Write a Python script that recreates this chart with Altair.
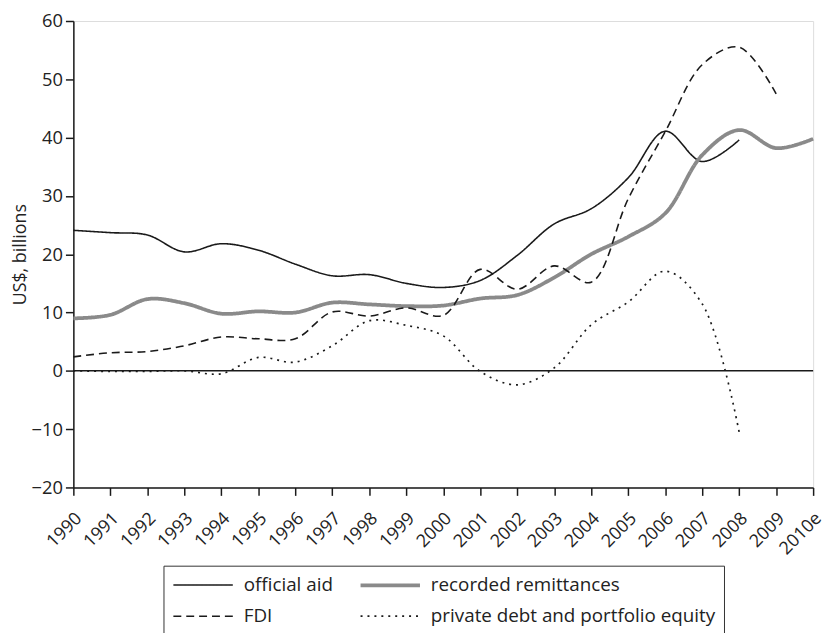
import altair as alt
import pandas as pd

years = list(range(1990, 2011))

series_names = ["official aid", "recorded remittances", "FDI", "private debt and portfolio equity"]
# legend fills column by column, so order the domain for a 2x2 grid read row-wise
legend_order = ["official aid", "FDI", "recorded remittances", "private debt and portfolio equity"]

official_aid = [24.1, 23.7, 23.3, 20.4, 21.8, 20.7, 18.3, 16.3, 16.5, 15.0, 14.3, 15.5,
                19.8, 25.2, 27.8, 33.1, 41.1, 35.9, 39.6]
remittances = [9.0, 9.6, 12.3, 11.6, 9.8, 10.2, 10.0, 11.7, 11.4, 11.1, 11.2, 12.4,
               13.0, 16.0, 20.0, 23.0, 27.0, 37.0, 41.3, 38.2, 39.8]
fdi = [2.4, 3.1, 3.3, 4.3, 5.8, 5.5, 5.5, 10.1, 9.4, 10.8, 9.5, 17.4,
       14.0, 18.0, 15.2, 29.5, 41.0, 52.5, 55.5, 47.5]
private_debt = [0.0, -0.1, -0.1, 0.0, -0.5, 2.3, 1.5, 4.3, 8.6, 7.8, 6.0, -0.1,
                -2.4, 0.5, 7.9, 11.8, 17.1, 11.5, -10.5]

style = {
    "official aid": ("#1a1a1a", [1, 0], 1.6),
    "recorded remittances": ("#8a8a8a", [1, 0], 3.8),
    "FDI": ("#1a1a1a", [8, 5], 1.6),
    "private debt and portfolio equity": ("#1a1a1a", [2, 5], 1.7),
}
colors = [style[s][0] for s in legend_order]
dashes = [style[s][1] for s in legend_order]
widths = [style[s][2] for s in legend_order]

rows = []
for name, vals in zip(series_names, [official_aid, remittances, fdi, private_debt]):
    for y, v in zip(years, vals):
        rows.append({"year": y, "value": v, "series": name})
df = pd.DataFrame(rows)

label_expr = "datum.value == 2010 ? '2010e' : toString(datum.value)"

font = "Open Sans"
ink = "#222222"

legend = alt.Legend(
    title=None, orient="none", legendX=91, legendY=550, columns=2,
    symbolType="M-1,0H5", symbolSize=400, labelFontSize=19, labelFont=font,
    labelColor=ink, strokeColor="#333", padding=8, columnPadding=19,
    rowPadding=10, labelOffset=49, labelLimit=0,
)

lines = alt.Chart(df).mark_line(interpolate="catmull-rom").encode(
    x=alt.X("year:Q", scale=alt.Scale(domain=[1990, 2010], nice=False, zero=False),
            axis=alt.Axis(values=years, labelExpr=label_expr, labelAngle=-45,
                          labelAlign="right", labelBaseline="top", labelPadding=14,
                          labelOffset=-1, labelOverlap=False, labelBound=False,
                          tickSize=8, title=None, grid=False, labelFontSize=18,
                          labelFont=font, labelColor=ink, domainColor="#1a1a1a",
                          tickColor="#1a1a1a", domainWidth=1.5, tickWidth=1.5)),
    y=alt.Y("value:Q", scale=alt.Scale(domain=[-20, 60], nice=False),
            axis=alt.Axis(values=list(range(-20, 61, 10)), tickSize=8, grid=False,
                          title="US$, billions", titleFontSize=18, titleFont=font,
                          titleFontWeight="normal", titleColor=ink, titlePadding=2,
                          labelFontSize=18.5, labelFont=font, labelColor=ink,
                          labelPadding=3, domainColor="#1a1a1a", tickColor="#1a1a1a",
                          domainWidth=1.5, tickWidth=1.5)),
    color=alt.Color("series:N", scale=alt.Scale(domain=legend_order, range=colors), legend=legend),
    strokeDash=alt.StrokeDash("series:N", scale=alt.Scale(domain=legend_order, range=dashes), legend=legend),
    strokeWidth=alt.StrokeWidth("series:N", scale=alt.Scale(type="ordinal", domain=legend_order, range=widths), legend=legend),
    detail="series:N",
)

zero = alt.Chart(pd.DataFrame({"y": [0]})).mark_rule(color="#1a1a1a", strokeWidth=1.5).encode(
    y="y:Q"
)

chart = alt.layer(zero, lines).properties(
    width=747, height=471,
    autosize=alt.AutoSizeParams(type="none"),
    padding={"left": 66, "top": 10, "right": 13, "bottom": 160},
).configure_view(stroke=None).configure(font=font)

chart.save("out.html", embed_options={"renderer": "svg", "actions": False})
